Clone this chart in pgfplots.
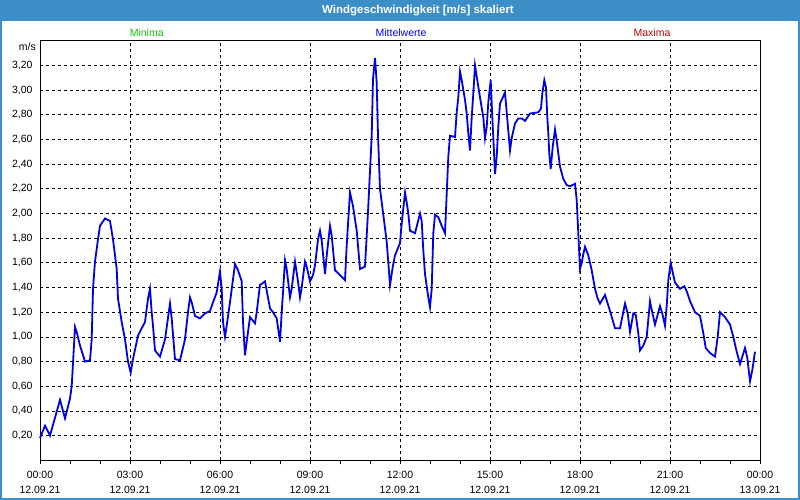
\documentclass[border=0pt]{standalone}
\usepackage{fontspec}
\setmainfont{Liberation Sans}
\usepackage{pgfplots}
\pgfplotsset{compat=1.18}
\definecolor{bar}{RGB}{60,142,198}
\definecolor{mingreen}{RGB}{20,200,20}
\definecolor{maxred}{RGB}{200,0,0}
\definecolor{lineblue}{RGB}{0,0,230}
\begin{document}
\begin{tikzpicture}[x=1pt,y=1pt,font=\fontsize{10.5}{13}\selectfont]
\useasboundingbox (-40,-39.7) rectangle (760,460.3);
\fill[white] (-40,-39.7) rectangle (760,460.3);
\fill[bar] (-40,439.6) rectangle (760,460.3);
\draw[bar,line width=2pt] (-39,-38.7) rectangle (759,459.3);
\node[white,font=\fontsize{11.5}{13}\selectfont\bfseries] at (378,450) {Windgeschwindigkeit [m/s] skaliert};
\node[text=mingreen] at (106.7,428) {Minima};
\node[text=blue] at (361,428) {Mittelwerte};
\node[text=maxred] at (612,428) {Maxima};
\node[anchor=east,inner sep=0pt] at (-4,413.6) {m/s};
\begin{axis}[
  at={(0,0)}, anchor=south west,
  scale only axis, width=720pt, height=419.6pt,
  xmin=0, xmax=24, ymin=0, ymax=3.4,
  axis line style={black,line width=0.8pt},
  xtick={0,3,6,9,12,15,18,21,24},
  minor xtick={1,2,4,5,7,8,10,11,13,14,16,17,19,20,22,23},
  xticklabels={{00:00\\12.09.21},{03:00\\12.09.21},{06:00\\12.09.21},{09:00\\12.09.21},{12:00\\12.09.21},{15:00\\12.09.21},{18:00\\12.09.21},{21:00\\12.09.21},{00:00\\13.09.21}},
  xticklabel style={align=center,font=\fontsize{10.5}{15.5}\selectfont,yshift=-3pt},
  ytick={0.2,0.4,0.6,0.8,1.0,1.2,1.4,1.6,1.8,2.0,2.2,2.4,2.6,2.8,3.0,3.2},
  yticklabel style={/pgf/number format/.cd,fixed,fixed zerofill,precision=2,use comma,assume math mode=true},
  /pgf/number format/assume math mode=true,
  tick align=outside,
  xtick pos=bottom,
  ytick style={draw=none},
  major tick length=4pt, minor tick length=4pt,
  tick style={black,line width=0.8pt},
  grid=major,
  major grid style={black,line width=0.7pt,dash pattern=on 3pt off 3pt},
  clip=false,
]
\addplot[lineblue,line width=1.8pt] coordinates {
(0,0.18)(0.167,0.28)(0.333,0.20)(0.667,0.49)(0.833,0.34)(1.0,0.50)(1.057,0.60)(1.167,1.08)(1.223,1.04)(1.333,0.93)
(1.5,0.80)(1.667,0.81)(1.723,0.98)(1.767,1.39)(1.833,1.61)(1.933,1.79)(2.0,1.90)(2.167,1.96)(2.333,1.94)(2.433,1.79)
(2.557,1.55)(2.6,1.31)(2.723,1.12)(2.833,0.98)(2.933,0.80)(3.023,0.71)(3.1,0.82)(3.267,1.01)(3.39,1.07)(3.5,1.12)
(3.6,1.31)(3.667,1.39)(3.723,1.20)(3.767,1.09)(3.833,0.89)(4.0,0.84)(4.167,0.98)(4.333,1.27)(4.39,1.15)(4.5,0.82)
(4.667,0.81)(4.833,0.98)(4.933,1.20)(5.0,1.32)(5.057,1.28)(5.167,1.17)(5.333,1.15)(5.5,1.19)(5.667,1.21)(5.767,1.28)
(5.89,1.36)(6.0,1.53)(6.057,1.39)(6.1,1.12)(6.167,1.00)(6.223,1.09)(6.333,1.28)(6.5,1.59)(6.6,1.54)(6.723,1.45)
(6.767,1.12)(6.833,0.85)(6.89,0.96)(7.0,1.16)(7.167,1.11)(7.223,1.20)(7.333,1.42)(7.5,1.45)(7.667,1.23)(7.767,1.20)
(7.89,1.15)(8.0,0.96)(8.057,1.20)(8.1,1.36)(8.167,1.62)(8.223,1.55)(8.333,1.32)(8.39,1.39)(8.5,1.61)(8.6,1.45)
(8.667,1.32)(8.723,1.40)(8.833,1.61)(8.89,1.57)(9.0,1.45)(9.1,1.50)(9.167,1.58)(9.267,1.79)(9.333,1.86)(9.39,1.78)
(9.5,1.51)(9.557,1.66)(9.667,1.90)(9.723,1.82)(9.833,1.54)(10.0,1.50)(10.167,1.46)(10.223,1.74)(10.333,2.17)(10.433,2.06)
(10.557,1.86)(10.667,1.55)(10.833,1.57)(10.933,2.01)(11.057,2.63)(11.1,3.09)(11.167,3.26)(11.223,3.06)(11.267,2.63)(11.333,2.20)
(11.433,2.01)(11.557,1.77)(11.667,1.42)(11.767,1.58)(11.833,1.66)(12.0,1.76)(12.057,1.92)(12.167,2.17)(12.223,2.09)(12.277,2.00)
(12.333,1.86)(12.5,1.84)(12.667,2.00)(12.723,1.94)(12.777,1.70)(12.833,1.51)(12.943,1.32)(13.0,1.24)(13.057,1.39)(13.11,1.84)
(13.167,1.99)(13.277,1.97)(13.39,1.90)(13.5,1.84)(13.557,2.16)(13.61,2.46)(13.667,2.63)(13.833,2.62)(13.89,2.82)(13.943,2.94)
(14.0,3.15)(14.057,3.08)(14.167,2.92)(14.223,2.81)(14.277,2.65)(14.333,2.51)(14.39,2.78)(14.443,2.97)(14.5,3.20)(14.557,3.11)
(14.667,2.94)(14.777,2.78)(14.833,2.61)(14.89,2.70)(14.943,2.90)(15.023,3.08)(15.077,2.78)(15.167,2.32)(15.223,2.46)(15.277,2.70)
(15.333,2.89)(15.5,2.98)(15.61,2.67)(15.667,2.51)(15.723,2.61)(15.833,2.73)(15.943,2.77)(16.057,2.77)(16.167,2.75)(16.333,2.81)
(16.61,2.82)(16.7,2.85)(16.743,2.97)(16.81,3.08)(16.867,3.02)(16.91,2.78)(16.943,2.65)(16.977,2.48)(17.023,2.36)(17.09,2.54)
(17.167,2.68)(17.223,2.59)(17.333,2.38)(17.443,2.28)(17.557,2.23)(17.667,2.22)(17.833,2.24)(17.89,2.11)(17.943,1.84)(18.0,1.55)
(18.057,1.60)(18.11,1.67)(18.167,1.73)(18.277,1.66)(18.39,1.54)(18.5,1.39)(18.59,1.31)(18.667,1.27)(18.833,1.34)(19.0,1.21)
(19.167,1.07)(19.333,1.07)(19.5,1.27)(19.59,1.19)(19.667,1.04)(19.777,1.19)(19.857,1.18)(19.943,1.03)(20.0,0.89)(20.11,0.93)
(20.223,1.00)(20.333,1.29)(20.39,1.22)(20.5,1.10)(20.667,1.25)(20.743,1.19)(20.833,1.09)(20.89,1.25)(20.943,1.46)(21.023,1.60)
(21.11,1.50)(21.167,1.44)(21.333,1.39)(21.477,1.41)(21.557,1.37)(21.667,1.29)(21.833,1.20)(22.0,1.17)(22.11,1.03)(22.19,0.91)
(22.333,0.87)(22.5,0.84)(22.59,1.00)(22.667,1.20)(22.833,1.16)(23.0,1.10)(23.11,1.00)(23.223,0.88)(23.333,0.78)(23.41,0.84)
(23.5,0.91)(23.577,0.83)(23.667,0.64)(23.743,0.73)(23.833,0.88)
};
\end{axis}
\end{tikzpicture}
\end{document}
